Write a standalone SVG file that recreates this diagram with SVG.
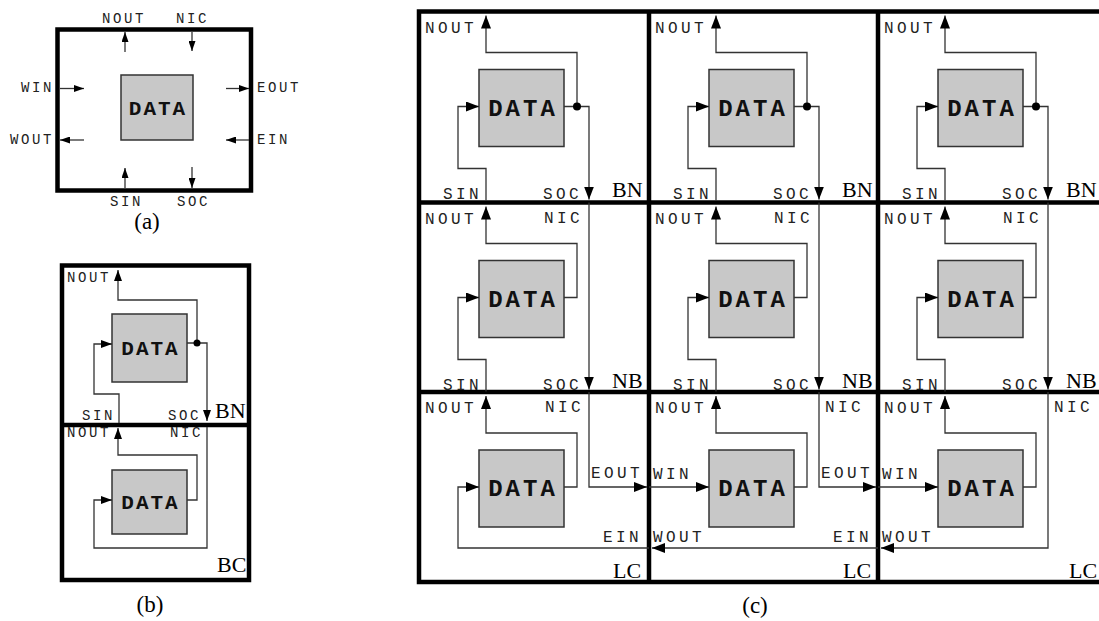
<svg xmlns="http://www.w3.org/2000/svg" width="1099" height="621" viewBox="0 0 1099 621">
  <defs>
    <style>
      .frame { fill: none; stroke: #000; stroke-width: 4.5; }
      .box { fill: #c8c8c8; stroke: #333; stroke-width: 1.5; }
      .wire { fill: none; stroke: #333; stroke-width: 1.3; }
      .wire-l { marker-end: url(#ah); }
      .wire-m { marker-end: url(#ahm); }
      .wire-s { marker-end: url(#ahs); }
      .dot { fill: #000; }
      .lbl { font-family: "Liberation Mono", monospace; font-size: 16px; letter-spacing: 3.4px; fill: #222; }
      .lbl-s { font-family: "Liberation Mono", monospace; font-size: 14px; letter-spacing: 2.6px; fill: #222; }
      .data { font-family: "Liberation Mono", monospace; font-weight: bold; font-size: 24px; letter-spacing: 3px; text-anchor: middle; fill: #111; }
      .data-s { font-family: "Liberation Mono", monospace; font-weight: bold; font-size: 21px; letter-spacing: 2px; text-anchor: middle; fill: #111; }
      .tag { font-family: "Liberation Serif", serif; font-size: 22px; fill: #000; }
      .cap { font-family: "Liberation Serif", serif; font-size: 23px; text-anchor: middle; fill: #000; }
    </style>
    <marker id="ah" markerUnits="userSpaceOnUse" viewBox="0 0 13 10" markerWidth="13" markerHeight="10" refX="13" refY="5" orient="auto">
      <path d="M0,0 L13,5 L0,10 z" fill="#000"/>
    </marker>
    <marker id="ahm" markerUnits="userSpaceOnUse" viewBox="0 0 11 8" markerWidth="11" markerHeight="8" refX="11" refY="4" orient="auto">
      <path d="M0,0 L11,4 L0,8 z" fill="#000"/>
    </marker>
    <marker id="ahs" markerUnits="userSpaceOnUse" viewBox="0 0 10 7" markerWidth="10" markerHeight="7" refX="10" refY="3.5" orient="auto">
      <path d="M0,0 L10,3.5 L0,7 z" fill="#000"/>
    </marker>
  </defs>
  <rect width="1099" height="621" fill="#fff"/>

  <!-- ===== (a) single cell with its eight ports ===== -->
  <g id="panel-a">
    <rect class="frame" x="57.5" y="29.5" width="193.5" height="161"/>
    <g id="a-data">
      <rect class="box" x="121" y="75" width="72" height="65"/>
      <text class="data-s" x="158" y="114.5">DATA</text>
    </g>
    <g id="a-connectors">
      <path class="wire wire-s" d="M125,52 V32"/>
      <path class="wire wire-s" d="M192,32 V51"/>
      <path class="wire wire-s" d="M60,88.5 H84"/>
      <path class="wire wire-s" d="M226,88.5 H249"/>
      <path class="wire wire-s" d="M84,140 H60"/>
      <path class="wire wire-s" d="M249,140 H226"/>
      <path class="wire wire-s" d="M125,188 V168"/>
      <path class="wire wire-s" d="M192,167 V188"/>
    </g>
    <text class="lbl-s" x="102" y="23">NOUT</text>
    <text class="lbl-s" x="176" y="23">NIC</text>
    <text class="lbl-s" x="21" y="92">WIN</text>
    <text class="lbl-s" x="10" y="143.5">WOUT</text>
    <text class="lbl-s" x="257" y="92">EOUT</text>
    <text class="lbl-s" x="257" y="143.5">EIN</text>
    <text class="lbl-s" x="110" y="206">SIN</text>
    <text class="lbl-s" x="177" y="206">SOC</text>
    <text class="cap" x="147" y="229">(a)</text>
  </g>

  <!-- ===== (b) two-cell column: BN over BC ===== -->
  <g id="panel-b">
    <rect class="frame" x="62" y="265.5" width="187" height="314.5"/>
    <line class="frame" x1="62" y1="425" x2="249" y2="425"/>
    <g id="b-data-top">
      <rect class="box" x="112" y="314" width="75" height="68"/>
      <text class="data-s" x="150.5" y="355">DATA</text>
    </g>
    <g id="b-data-bottom">
      <rect class="box" x="112" y="470" width="75" height="64"/>
      <text class="data-s" x="150.5" y="509">DATA</text>
    </g>
    <g id="b-connectors">
      <path class="wire wire-m" d="M197,343 V300 H118 V270"/>
      <path class="wire wire-m" d="M187,343 H207 V421"/>
      <circle class="dot" cx="197" cy="343" r="3.5"/>
      <path class="wire wire-m" d="M119,423 V394 H94 V344 H112"/>
      <path class="wire wire-m" d="M187,500 H197 V455 H118 V428"/>
      <path class="wire wire-m" d="M207,427 V548 H94 V500 H112"/>
    </g>
    <text class="lbl-s" x="67" y="281.5">NOUT</text>
    <text class="lbl-s" x="82" y="419.5">SIN</text>
    <text class="lbl-s" x="168" y="419.5">SOC</text>
    <text class="tag" x="215" y="418">BN</text>
    <text class="lbl-s" x="67" y="437">NOUT</text>
    <text class="lbl-s" x="170" y="437">NIC</text>
    <text class="tag" x="217" y="572">BC</text>
    <text class="cap" x="150" y="612">(b)</text>
  </g>

  <!-- ===== (c) 3x3 grid: BN / NB / LC rows ===== -->
  <g id="panel-c">
    <g id="c-frame">
      <rect class="frame" x="419" y="11.5" width="688" height="570.5"/>
      <line class="frame" x1="419" y1="202.5" x2="1107" y2="202.5"/>
      <line class="frame" x1="419" y1="392" x2="1107" y2="392"/>
      <line class="frame" x1="649" y1="11.5" x2="649" y2="582"/>
      <line class="frame" x1="878" y1="11.5" x2="878" y2="582"/>
    </g>

    <!-- data nodes -->
    <g id="c-data-r0c0" transform="translate(419,11.5)"><rect class="box" x="60" y="58" width="85" height="77"/><text class="data" x="104" y="104">DATA</text></g>
    <g id="c-data-r0c1" transform="translate(649,11.5)"><rect class="box" x="60" y="58" width="85" height="77"/><text class="data" x="104" y="104">DATA</text></g>
    <g id="c-data-r0c2" transform="translate(878,11.5)"><rect class="box" x="60" y="58" width="85" height="77"/><text class="data" x="104" y="104">DATA</text></g>
    <g id="c-data-r1c0" transform="translate(419,202.5)"><rect class="box" x="60" y="58" width="85" height="77"/><text class="data" x="104" y="104">DATA</text></g>
    <g id="c-data-r1c1" transform="translate(649,202.5)"><rect class="box" x="60" y="58" width="85" height="77"/><text class="data" x="104" y="104">DATA</text></g>
    <g id="c-data-r1c2" transform="translate(878,202.5)"><rect class="box" x="60" y="58" width="85" height="77"/><text class="data" x="104" y="104">DATA</text></g>
    <g id="c-data-r2c0" transform="translate(419,392)"><rect class="box" x="60" y="58" width="85" height="77"/><text class="data" x="104" y="104">DATA</text></g>
    <g id="c-data-r2c1" transform="translate(649,392)"><rect class="box" x="60" y="58" width="85" height="77"/><text class="data" x="104" y="104">DATA</text></g>
    <g id="c-data-r2c2" transform="translate(878,392)"><rect class="box" x="60" y="58" width="85" height="77"/><text class="data" x="104" y="104">DATA</text></g>

    <!-- connectors, one sub-group per cell in cell-local coordinates -->
    <g id="c-connectors">
      <g transform="translate(419,11.5)">
        <path class="wire wire-l" d="M158,95 V41 H67 V4"/>
        <path class="wire wire-l" d="M145,95 H170 V188"/>
        <circle class="dot" cx="158" cy="95" r="4"/>
        <path class="wire wire-l" d="M67,189 V157 H39 V95 H60"/>
      </g>
      <g transform="translate(649,11.5)">
        <path class="wire wire-l" d="M158,95 V41 H67 V4"/>
        <path class="wire wire-l" d="M145,95 H170 V188"/>
        <circle class="dot" cx="158" cy="95" r="4"/>
        <path class="wire wire-l" d="M67,189 V157 H39 V95 H60"/>
      </g>
      <g transform="translate(878,11.5)">
        <path class="wire wire-l" d="M158,95 V41 H67 V4"/>
        <path class="wire wire-l" d="M145,95 H170 V188"/>
        <circle class="dot" cx="158" cy="95" r="4"/>
        <path class="wire wire-l" d="M67,189 V157 H39 V95 H60"/>
      </g>
      <g transform="translate(419,202.5)">
        <path class="wire wire-l" d="M145,95 H158 V41 H67 V4"/>
        <path class="wire wire-l" d="M170,0 V187"/>
        <path class="wire wire-l" d="M67,189 V157 H39 V95 H60"/>
      </g>
      <g transform="translate(649,202.5)">
        <path class="wire wire-l" d="M145,95 H158 V41 H67 V4"/>
        <path class="wire wire-l" d="M170,0 V187"/>
        <path class="wire wire-l" d="M67,189 V157 H39 V95 H60"/>
      </g>
      <g transform="translate(878,202.5)">
        <path class="wire wire-l" d="M145,95 H158 V41 H67 V4"/>
        <path class="wire wire-l" d="M170,0 V187"/>
        <path class="wire wire-l" d="M67,189 V157 H39 V95 H60"/>
      </g>
      <g transform="translate(419,392)">
        <path class="wire wire-l" d="M145,95 H158 V41 H67 V4"/>
        <path class="wire wire-l" d="M170,0 V95 H228"/>
        <path class="wire wire-l" d="M230,156 H39 V95 H60"/>
      </g>
      <g transform="translate(649,392)">
        <path class="wire wire-l" d="M145,95 H158 V41 H67 V4"/>
        <path class="wire wire-l" d="M170,0 V95 H227"/>
        <path class="wire wire-l" d="M0,95 H60"/>
        <path class="wire wire-l" d="M229,156 H3"/>
      </g>
      <g transform="translate(878,392)">
        <path class="wire wire-l" d="M145,95 H158 V41 H67 V4"/>
        <path class="wire wire-l" d="M0,95 H60"/>
        <path class="wire wire-l" d="M170,0 V156 H3"/>
      </g>
    </g>

    <!-- port labels and cell kinds -->
    <g id="c-labels">
      <g transform="translate(419,11.5)">
        <text class="lbl" x="6" y="21">NOUT</text><text class="lbl" x="24" y="187">SIN</text><text class="lbl" x="124" y="187">SOC</text><text class="tag" x="193" y="185">BN</text>
      </g>
      <g transform="translate(649,11.5)">
        <text class="lbl" x="6" y="21">NOUT</text><text class="lbl" x="24" y="187">SIN</text><text class="lbl" x="124" y="187">SOC</text><text class="tag" x="193" y="185">BN</text>
      </g>
      <g transform="translate(878,11.5)">
        <text class="lbl" x="6" y="21">NOUT</text><text class="lbl" x="24" y="187">SIN</text><text class="lbl" x="124" y="187">SOC</text><text class="tag" x="188" y="185">BN</text>
      </g>
      <g transform="translate(419,202.5)">
        <text class="lbl" x="6" y="21">NOUT</text><text class="lbl" x="125" y="20">NIC</text><text class="lbl" x="24" y="187">SIN</text><text class="lbl" x="124" y="187">SOC</text><text class="tag" x="193" y="185">NB</text>
      </g>
      <g transform="translate(649,202.5)">
        <text class="lbl" x="6" y="21">NOUT</text><text class="lbl" x="125" y="20">NIC</text><text class="lbl" x="24" y="187">SIN</text><text class="lbl" x="124" y="187">SOC</text><text class="tag" x="193" y="185">NB</text>
      </g>
      <g transform="translate(878,202.5)">
        <text class="lbl" x="6" y="21">NOUT</text><text class="lbl" x="125" y="20">NIC</text><text class="lbl" x="24" y="187">SIN</text><text class="lbl" x="124" y="187">SOC</text><text class="tag" x="188" y="185">NB</text>
      </g>
      <g transform="translate(419,392)">
        <text class="lbl" x="6" y="21">NOUT</text><text class="lbl" x="126" y="20">NIC</text><text class="lbl" x="172" y="86">EOUT</text><text class="lbl" x="184" y="150">EIN</text><text class="tag" x="194" y="186">LC</text>
      </g>
      <g transform="translate(649,392)">
        <text class="lbl" x="6" y="21">NOUT</text><text class="lbl" x="176" y="20">NIC</text><text class="lbl" x="4" y="87">WIN</text><text class="lbl" x="4" y="150">WOUT</text><text class="lbl" x="172" y="86">EOUT</text><text class="lbl" x="184" y="150">EIN</text><text class="tag" x="194" y="186">LC</text>
      </g>
      <g transform="translate(878,392)">
        <text class="lbl" x="6" y="21">NOUT</text><text class="lbl" x="176" y="20">NIC</text><text class="lbl" x="4" y="87">WIN</text><text class="lbl" x="4" y="150">WOUT</text><text class="tag" x="191" y="186">LC</text>
      </g>
    </g>
    <text class="cap" x="755" y="613">(c)</text>
  </g>
</svg>
